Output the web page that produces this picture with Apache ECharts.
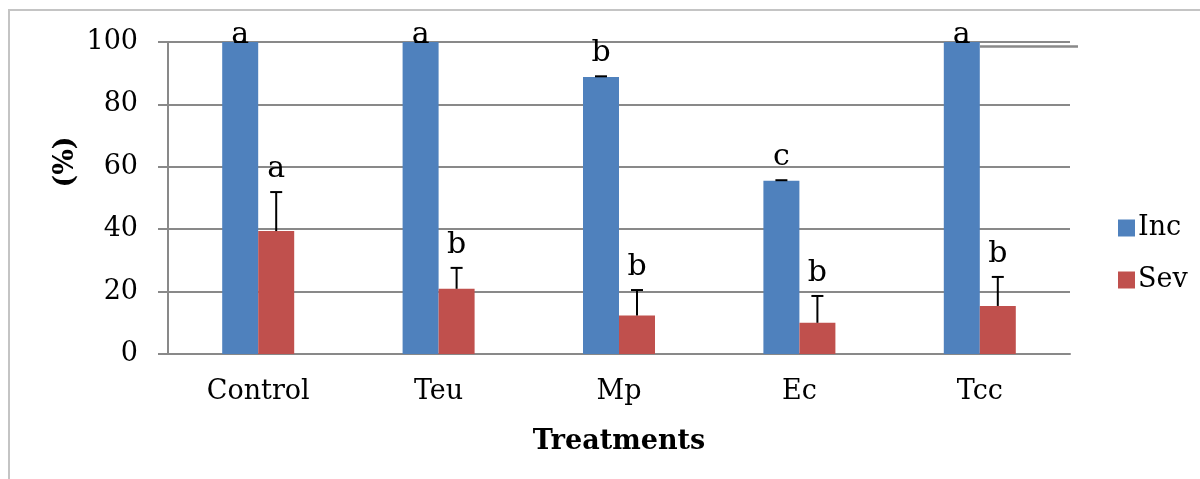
<!DOCTYPE html>
<html>
<head>
<meta charset="utf-8">
<title>Treatments</title>
<script src="https://cdn.jsdelivr.net/npm/echarts@6/dist/echarts.min.js"></script>
<style>
  html, body { margin: 0; padding: 0; background: #fff; }
  #chart { width: 1200px; height: 479px; }
</style>
</head>
<body>
<div id="chart"></div>
<script>
// data
var treatments = ['Control', 'Teu', 'Mp', 'Ec', 'Tcc'];
var incValues = [100, 100, 88.8, 55.5, 100];
var sevValues = [39.4, 20.9, 12.3, 10.0, 15.4];
var incErr = [0, 0, 0.2, 0.2, 0];
var sevErr = [12.5, 6.7, 8.2, 8.6, 9.3];
var incLetters = ['a', 'a', 'b', 'c', 'a'];
var sevLetters = ['a', 'b', 'b', 'b', 'b'];
var yTicks = [0, 20, 40, 60, 80, 100];

var FONT = '"DejaVu Serif", "Liberation Serif", serif';
var GRAY = '#898989';
var BAR_W = 36;

// error bar + letter over a bar (side: -1 left bar, +1 right bar)
function errorItem(side, letters) {
    return function (params, api) {
        var idx = api.value(0);
        var val = api.value(1);
        var err = api.value(2);
        var base = api.coord([idx, val]);
        var top = api.coord([idx, val + err]);
        var x = base[0] + side * BAR_W / 2;
        var ty = Math.max(top[1] - 8, 50);
        return {
            type: 'group',
            children: [
                { type: 'line', shape: { x1: x, y1: base[1], x2: x, y2: top[1] },
                  style: { stroke: '#000', lineWidth: 2 } },
                { type: 'line', shape: { x1: x - 6, y1: top[1], x2: x + 6, y2: top[1] },
                  style: { stroke: '#000', lineWidth: 2 } },
                { type: 'text', x: x, y: ty,
                  style: { text: letters[params.dataIndex], fill: '#000', font: '30px ' + FONT,
                           textAlign: 'center', textVerticalAlign: 'bottom' } }
            ]
        };
    };
}

function errData(values, errs) {
    return values.map(function (v, i) { return [i, v, errs[i]]; });
}

var myChart = echarts.init(document.getElementById('chart'));
myChart.setOption({
    animation: false,
    backgroundColor: '#fff',
    grid: { left: 168, right: 130, top: 42, bottom: 125 },
    legend: {
        orient: 'vertical',
        left: 1113,
        top: 208,
        itemWidth: 17,
        itemHeight: 17,
        itemGap: 22,
        icon: 'rect',
        data: ['Inc', 'Sev'],
        textStyle: { fontFamily: FONT, fontSize: 27, color: '#000', lineHeight: 30, padding: [0, 0, 0, -2] }
    },
    xAxis: {
        type: 'category',
        data: treatments,
        name: 'Treatments',
        nameLocation: 'middle',
        nameGap: 74,
        nameTextStyle: { fontFamily: FONT, fontSize: 27, fontWeight: 'bold', color: '#000' },
        axisLine: { lineStyle: { color: GRAY, width: 2 } },
        axisTick: { show: false },
        axisLabel: { fontFamily: FONT, fontSize: 27, color: '#000', margin: 24 }
    },
    yAxis: {
        type: 'value',
        min: yTicks[0],
        max: yTicks[yTicks.length - 1],
        interval: 20,
        axisLine: { show: true, lineStyle: { color: GRAY, width: 2 } },
        axisTick: { show: true, length: 10, lineStyle: { color: GRAY, width: 2 } },
        axisLabel: { fontFamily: FONT, fontSize: 27, color: '#000', margin: 30 },
        splitLine: { lineStyle: { color: GRAY, width: 2 } }
    },
    graphic: [
        // outer frame of the figure
        { type: 'rect', shape: { x: 9, y: 10, width: 1300, height: 600 },
          style: { fill: 'none', stroke: '#c4c4c4', lineWidth: 2 }, silent: true },
        // stray line near Tcc in the original
        { type: 'line', shape: { x1: 980, y1: 46.5, x2: 1078, y2: 46.5 },
          style: { stroke: GRAY, lineWidth: 2.5 }, silent: true },
        // y axis title
        { type: 'text', x: 66, y: 162, rotation: Math.PI / 2,
          style: { text: '(%)', font: 'bold 27px ' + FONT, fill: '#000',
                   textAlign: 'center', textVerticalAlign: 'middle' } }
    ],
    series: [
        { name: 'Inc', type: 'bar', data: incValues, barWidth: BAR_W, barGap: '0%',
          itemStyle: { color: '#4F81BD' } },
        { name: 'Sev', type: 'bar', data: sevValues, barWidth: BAR_W, barGap: '0%',
          itemStyle: { color: '#C0504D' } },
        { type: 'custom', name: 'incErr', renderItem: errorItem(-1, incLetters), clip: false, z: 5,
          encode: { x: 0, y: 1 }, data: errData(incValues, incErr) },
        { type: 'custom', name: 'sevErr', renderItem: errorItem(1, sevLetters), clip: false, z: 5,
          encode: { x: 0, y: 1 }, data: errData(sevValues, sevErr) }
    ]
});
</script>
</body>
</html>
